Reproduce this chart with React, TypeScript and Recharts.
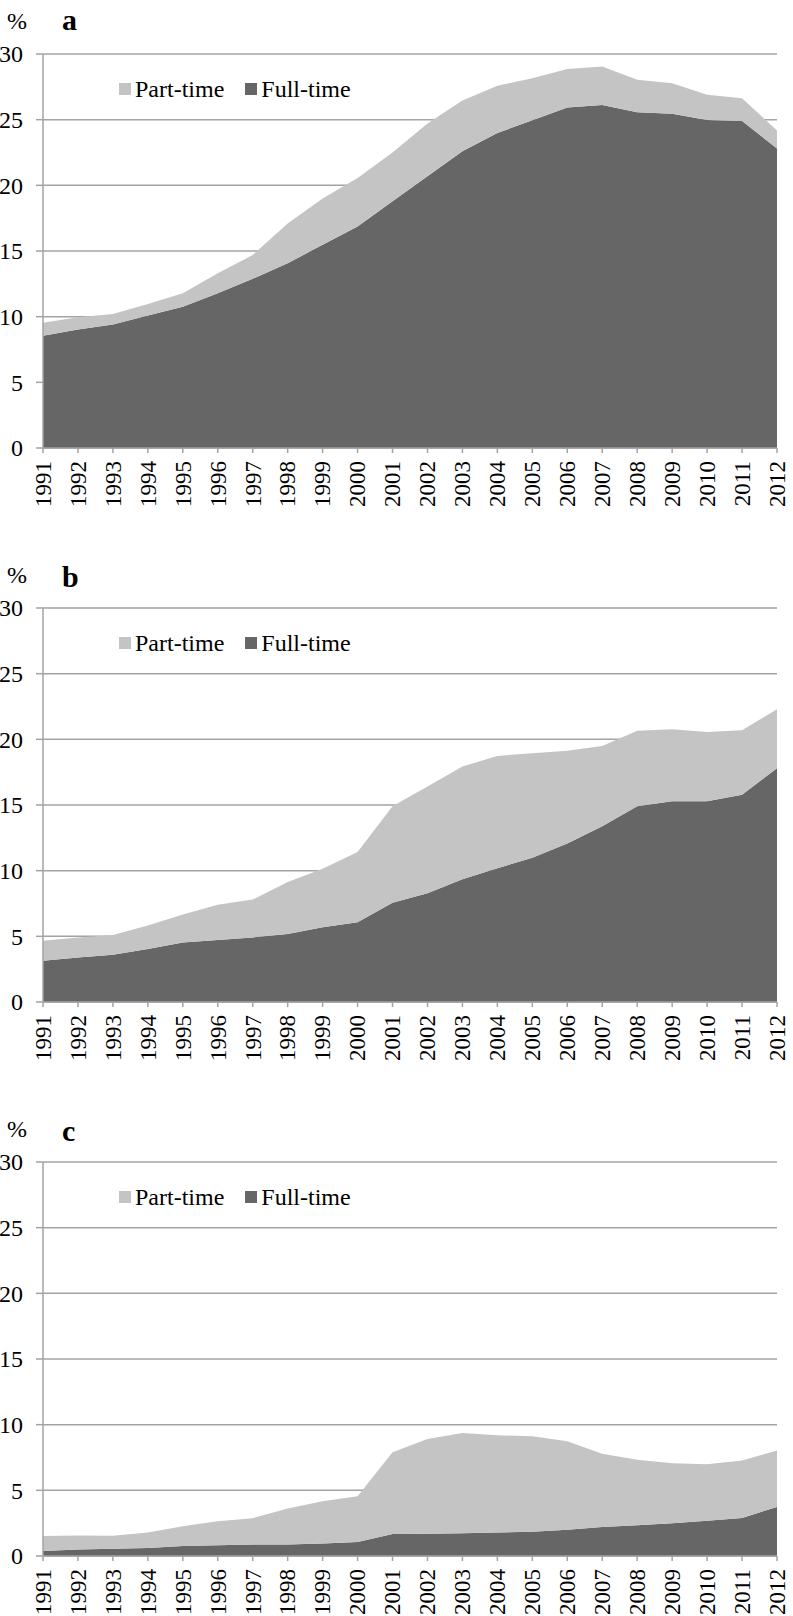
import React from 'react';
import { AreaChart, Area, XAxis, YAxis, CartesianGrid, Legend } from 'recharts';

const YEARS = [
  '1991', '1992', '1993', '1994', '1995', '1996', '1997', '1998', '1999', '2000', '2001',
  '2002', '2003', '2004', '2005', '2006', '2007', '2008', '2009', '2010', '2011', '2012',
];

const Y_TICKS = [0, 5, 10, 15, 20, 25, 30];

// panel a
const FULL_A = [8.55, 9.03, 9.41, 10.08, 10.76, 11.78, 12.88, 14.07, 15.47, 16.87, 18.78, 20.7, 22.6, 23.99, 24.95, 25.93, 26.11, 25.56, 25.45, 24.97, 24.9, 22.8];
const PART_A = [0.99, 0.92, 0.79, 0.89, 1.02, 1.52, 1.82, 3.03, 3.53, 3.69, 3.72, 4.0, 3.86, 3.59, 3.21, 2.93, 2.93, 2.47, 2.33, 1.93, 1.74, 1.37];

// panel b
const FULL_B = [3.14, 3.39, 3.6, 4.03, 4.54, 4.72, 4.92, 5.18, 5.69, 6.07, 7.55, 8.28, 9.34, 10.18, 10.98, 12.07, 13.38, 14.9, 15.28, 15.28, 15.78, 17.8];
const PART_B = [1.53, 1.53, 1.5, 1.79, 2.12, 2.68, 2.88, 3.95, 4.46, 5.36, 7.35, 8.13, 8.59, 8.56, 7.96, 7.07, 6.12, 5.76, 5.48, 5.28, 4.92, 4.5];

// panel c
const FULL_C = [0.38, 0.5, 0.56, 0.6, 0.76, 0.81, 0.88, 0.88, 0.96, 1.06, 1.67, 1.69, 1.74, 1.79, 1.84, 1.99, 2.2, 2.35, 2.5, 2.68, 2.9, 3.74];
const PART_C = [1.14, 1.07, 0.98, 1.19, 1.51, 1.84, 2.0, 2.73, 3.21, 3.49, 6.23, 7.22, 7.63, 7.4, 7.28, 6.75, 5.58, 4.97, 4.57, 4.31, 4.37, 4.29];

const FONT = '"Liberation Serif", "Times New Roman", serif';
const DARK = '#666666';
const LIGHT = '#c4c4c4';
const GRID = '#a3a3a3';

const build = (full: number[], part: number[]) =>
  YEARS.map((year, i) => ({ year, full: full[i], part: part[i] }));

const YTick = (props: any) => {
  const { y, payload } = props;
  return (
    <text x={23} y={y} dy="0.35em" textAnchor="end" fontFamily={FONT} fontSize={24} fill="#000">
      {payload.value}
    </text>
  );
};

const XTick = (props: any) => {
  const { x, y, payload } = props;
  return (
    <g transform={`translate(${x},${y + 6})`}>
      <text transform="rotate(-90)" textAnchor="end" dy="0.34em" fontFamily={FONT} fontSize={23} fill="#000">
        {payload.value}
      </text>
    </g>
  );
};

const LegendBox = () => {
  const items = [
    { label: 'Part-time', color: LIGHT },
    { label: 'Full-time', color: DARK },
  ];
  return (
    <div style={{ display: 'flex', alignItems: 'center', fontFamily: FONT, fontSize: 24, lineHeight: '24px', color: '#000' }}>
      {items.map((it) => (
        <span key={it.label} style={{ display: 'flex', alignItems: 'center', marginRight: 21, whiteSpace: 'nowrap' }}>
          <span style={{ width: 12, height: 12, background: it.color, marginRight: 4, display: 'inline-block' }} />
          {it.label}
        </span>
      ))}
    </div>
  );
};

interface PanelProps {
  letter: string;
  full: number[];
  part: number[];
  top: number;
  letterY: number;
}

const Panel: React.FC<PanelProps> = ({ letter, full, part, top, letterY }) => {
  const data = build(full, part);
  return (
    <div style={{ position: 'absolute', left: 0, top, width: 793, height: 508 }}>
      <svg width={793} height={50} style={{ position: 'absolute', left: 0, top: 0 }}>
        <text x={7} y={29} fontFamily={FONT} fontSize={24} fill="#000">%</text>
        <text x={62} y={letterY} fontFamily={FONT} fontSize={30} fontWeight="bold" fill="#000">{letter}</text>
      </svg>
      <AreaChart width={793} height={508} data={data} margin={{ top: 54, right: 16, left: 0, bottom: 0 }}>
        <CartesianGrid vertical={false} stroke={GRID} strokeWidth={1.5} />
        <Area
          type="linear"
          dataKey="full"
          name="Full-time"
          stackId="1"
          stroke="none"
          fill={DARK}
          fillOpacity={1}
          isAnimationActive={false}
        />
        <Area
          type="linear"
          dataKey="part"
          name="Part-time"
          stackId="1"
          stroke="none"
          fill={LIGHT}
          fillOpacity={1}
          isAnimationActive={false}
        />
        <XAxis
          dataKey="year"
          interval={0}
          height={60}
          tickSize={5}
          stroke={GRID}
          tickLine={{ stroke: GRID, strokeWidth: 1.5 }}
          axisLine={{ stroke: GRID, strokeWidth: 1.5 }}
          tick={<XTick />}
        />
        <YAxis
          domain={[0, 30]}
          ticks={Y_TICKS}
          width={43}
          tickSize={7}
          stroke={GRID}
          tickLine={{ stroke: GRID, strokeWidth: 1.5 }}
          axisLine={{ stroke: GRID, strokeWidth: 1.5 }}
          tick={<YTick />}
        />
        <Legend
          layout="horizontal"
          verticalAlign="middle"
          align="center"
          content={<LegendBox />}
          wrapperStyle={{ top: 77, left: 119, width: 'auto', height: 'auto' }}
        />
      </AreaChart>
    </div>
  );
};

export default function App() {
  return (
    <div style={{ position: 'absolute', left: 0, top: 0, width: 793, height: 1616, background: '#fff' }}>
      <Panel letter="a" full={FULL_A} part={PART_A} top={0} letterY={30} />
      <Panel letter="b" full={FULL_B} part={PART_B} top={554} letterY={33} />
      <Panel letter="c" full={FULL_C} part={PART_C} top={1108} letterY={33} />
    </div>
  );
}
